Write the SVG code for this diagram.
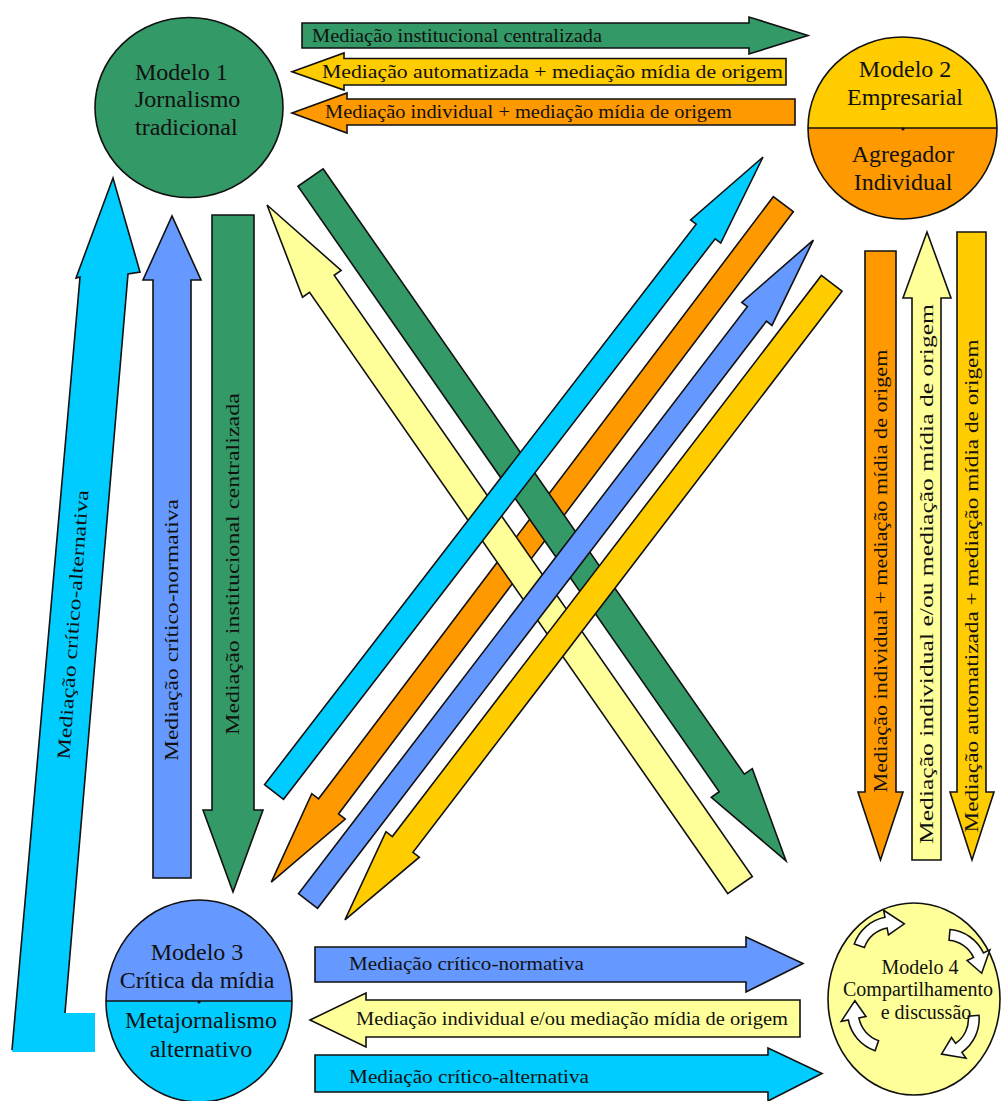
<svg xmlns="http://www.w3.org/2000/svg" width="1002" height="1101" viewBox="0 0 1002 1101" font-family="'Liberation Serif', 'Times New Roman', serif">
<style>
.s{stroke:#111;stroke-width:1.6;stroke-linejoin:miter}
.g{fill:#339966}.y{fill:#ffcc00}.o{fill:#ff9900}.ly{fill:#ffff99}.b{fill:#6699ff}.c{fill:#00ccff}
.t{font-size:18.5px;fill:#111}
.n{font-size:24px;fill:#111}
.m{font-size:20px;fill:#111}
</style>
<defs>
<path id="carr" d="M-24,6 A34,34 0 0 1 8.8,-2.84 L10.35,-8.64 L20.86,9.14 L4.92,11.65 L6.47,5.85 A25,25 0 0 0 -17.7,12.3 Z" fill="#fff" stroke="#111" stroke-width="1.3"/>
</defs>
<rect width="1002" height="1101" fill="#fff"/>

<g id="connectors">
  <!-- top horizontal arrows -->
  <path class="s g" d="M302,23 H749 V17 L808,35.5 L749,54 V48 H302 Z"/>
  <text class="t" x="312" y="42" textLength="290" lengthAdjust="spacingAndGlyphs">Mediação institucional centralizada</text>
  <path class="s y" d="M292,71.7 L344,53 V58.5 H786 V85 H344 V90 Z"/>
  <text class="t" x="322" y="78" textLength="461" lengthAdjust="spacingAndGlyphs">Mediação automatizada + mediação mídia de origem</text>
  <path class="s o" d="M292,113 L347,93 V99 H795 V125 H347 V133 Z"/>
  <text class="t" x="325" y="118" textLength="407" lengthAdjust="spacingAndGlyphs">Mediação individual + mediação mídia de origem</text>

  <!-- bottom horizontal arrows -->
  <path class="s b" d="M315,947 H746 V937 L803,963.5 L746,992 V982 H315 Z"/>
  <text class="t" x="349" y="970" textLength="235" lengthAdjust="spacingAndGlyphs">Mediação crítico-normativa</text>
  <path class="s ly" d="M310,1020 L366,993 V1000 H800 V1037 H366 V1047 Z"/>
  <text class="t" x="356" y="1025" textLength="432" lengthAdjust="spacingAndGlyphs">Mediação individual e/ou mediação mídia de origem</text>
  <path class="s c" d="M315,1055 H768 V1048 L822,1073.5 L768,1101 V1092 H315 Z"/>
  <text class="t" x="349" y="1083" textLength="240" lengthAdjust="spacingAndGlyphs">Mediação crítico-alternativa</text>

  <!-- left vertical arrows -->
  <path class="s b" d="M153,878 V280 H143 L172,216 L201,280 H191 V878 Z"/>
  <text class="t" transform="translate(178,630) rotate(-90)" text-anchor="middle" textLength="262" lengthAdjust="spacingAndGlyphs">Mediação crítico-normativa</text>
  <path class="s g" d="M212,215 V810 H203 L233,892 L263,810 H254 V215 Z"/>
  <text class="t" transform="translate(239,564) rotate(-90)" text-anchor="middle" textLength="342" lengthAdjust="spacingAndGlyphs">Mediação institucional centralizada</text>

  <!-- L-shaped cyan arrow -->
  <path class="c" d="M113,178 L140,272 L128,274 L65,1013 L95,1013 L95,1052 L12,1052 L80,277 L76,278 Z"/>
  <polyline fill="none" class="s" points="65,1013 128,274 140,272 113,178 76,278 80,277 12,1050"/>
  <text class="t" transform="translate(79,625) rotate(-86)" text-anchor="middle" textLength="270" lengthAdjust="spacingAndGlyphs">Mediação crítico-alternativa</text>

  <!-- right vertical arrows -->
  <path class="s o" d="M865,251 V792 H858 L880.5,860 L903,792 H896 V251 Z"/>
  <text class="t" transform="translate(887,571) rotate(-90)" text-anchor="middle" textLength="443" lengthAdjust="spacingAndGlyphs">Mediação individual + mediação mídia de origem</text>
  <path class="s ly" d="M912,860 V298 H903 L927,232 L951,298 H941 V860 Z"/>
  <text class="t" transform="translate(933,574) rotate(-90)" text-anchor="middle" textLength="540" lengthAdjust="spacingAndGlyphs">Mediação individual e/ou mediação mídia de origem</text>
  <path class="s y" d="M957,232 V792 H950 L972,860 L994,792 H986 V232 Z"/>
  <text class="t" transform="translate(978,586) rotate(-90)" text-anchor="middle" textLength="493" lengthAdjust="spacingAndGlyphs">Mediação automatizada + mediação mídia de origem</text>

  <!-- diagonal arrows -->
  <path class="s o" transform="translate(783.3,204.2) rotate(127.06)" d="M0,-12.5 H754.6 V-21 L849.6,0 L754.6,21 V12.5 H0 Z"/>
  <path class="s g" transform="translate(310.5,177.5) rotate(55.17)" d="M0,-15.3 H737.6 V-25 L832.6,0 L737.6,25 V15.3 H0 Z"/>
  <path class="s ly" transform="translate(740,885) rotate(-124.82)" d="M0,-15 H732.3 V-23.5 L828.3,0 L732.3,23.5 V15 H0 Z"/>
  <path class="s b" transform="translate(308,901) rotate(-52.6)" d="M0,-12 H739 V-19 L832,0 L739,19 V12 H0 Z"/>
  <path class="s y" transform="translate(831.7,283.3) rotate(127.4)" d="M0,-13 H706.4 V-21 L801.4,0 L706.4,21 V13 H0 Z"/>
  <path class="s c" transform="translate(274,792) rotate(-52.4)" d="M0,-12 H707.5 V-19 L801.5,0 L707.5,19 V12 H0 Z"/>
</g>

<g id="modelo1">
  <ellipse class="s g" cx="189" cy="107.5" rx="94" ry="90"/>
  <text class="n" x="135" y="80">Modelo 1</text>
  <text class="n" x="135" y="107">Jornalismo</text>
  <text class="n" x="135" y="135">tradicional</text>
</g>

<g id="modelo2">
  <path class="y" d="M808,128 A94.5,91 0 0 1 997,128 Z"/>
  <path class="o" d="M808,128 A94.5,91 0 0 0 997,128 Z"/>
  <line class="s" x1="808" y1="128" x2="997" y2="128"/>
  <circle cx="903" cy="129" r="1.5" fill="#111"/>
  <ellipse class="s" fill="none" cx="902.5" cy="128" rx="94.5" ry="91"/>
  <text class="n" x="905" y="77" text-anchor="middle">Modelo 2</text>
  <text class="n" x="905" y="105" text-anchor="middle">Empresarial</text>
  <text class="n" x="903" y="162" text-anchor="middle">Agregador</text>
  <text class="n" x="903" y="190" text-anchor="middle">Individual</text>
</g>

<g id="modelo3">
  <path class="b" d="M106,1001 A93,101 0 0 1 292,1001 Z"/>
  <path class="c" d="M106,1001 A93,101 0 0 0 292,1001 Z"/>
  <line class="s" x1="106" y1="1001" x2="292" y2="1001"/>
  <circle cx="199" cy="1002" r="1.5" fill="#111"/>
  <ellipse class="s" fill="none" cx="199" cy="1001" rx="93" ry="101"/>
  <text class="n" x="197" y="960" text-anchor="middle">Modelo 3</text>
  <text class="n" x="197" y="988" text-anchor="middle">Crítica da mídia</text>
  <text class="n" x="201" y="1028" text-anchor="middle">Metajornalismo</text>
  <text class="n" x="201" y="1057" text-anchor="middle">alternativo</text>
</g>

<g id="modelo4">
  <ellipse class="s ly" cx="914" cy="999" rx="86" ry="96"/>
  <use href="#carr" transform="translate(877,925) rotate(-26) scale(1.2)"/>
  <use href="#carr" transform="translate(974,947) rotate(50) scale(1.2)"/>
  <use href="#carr" transform="translate(966,1042) rotate(130) scale(1.2)"/>
  <use href="#carr" transform="translate(856,1028) rotate(244) scale(1.2)"/>
  <text class="m" x="920" y="974" text-anchor="middle">Modelo 4</text>
  <text class="m" x="918" y="996" text-anchor="middle">Compartilhamento</text>
  <text class="m" x="926" y="1019" text-anchor="middle">e discussão</text>
</g>
</svg>
